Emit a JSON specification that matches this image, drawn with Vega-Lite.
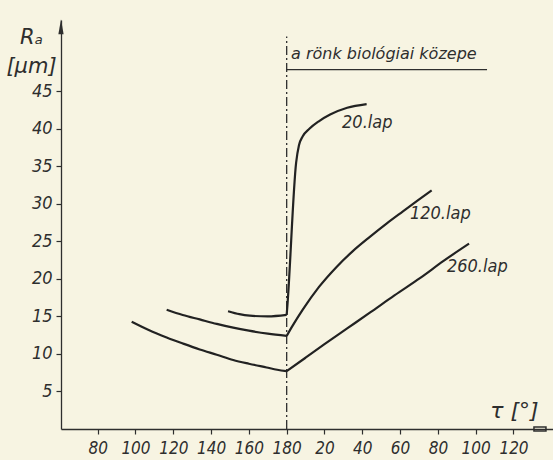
{
  "$schema": "https://vega.github.io/schema/vega-lite/v6.json",
  "width": 492,
  "height": 409,
  "autosize": {"type": "none"},
  "padding": {"left": 61, "top": 20, "right": 0, "bottom": 31},
  "background": "#f7f4e2",
  "config": {
    "view": {"stroke": null},
    "axis": {
      "domainColor": "#2e2e2e", "domainWidth": 1.3,
      "tickColor": "#2e2e2e", "tickWidth": 1.2, "tickSize": 5,
      "labelColor": "#2e2e2e", "labelFont": "DejaVu Sans Condensed, sans-serif",
      "labelFontStyle": "italic", "labelFontSize": 17,
      "titleColor": "#2e2e2e", "titleFont": "DejaVu Sans", "titleFontStyle": "italic", "titleFontWeight": "normal",
      "grid": false
    }
  },
  "datasets": {
    "curves": [
      {"seg": "260a", "series": "260.lap", "x": 98, "y": 14.3},
      {"seg": "260a", "series": "260.lap", "x": 107, "y": 13.2},
      {"seg": "260a", "series": "260.lap", "x": 116.5, "y": 12.2},
      {"seg": "260a", "series": "260.lap", "x": 125, "y": 11.4},
      {"seg": "260a", "series": "260.lap", "x": 134, "y": 10.6},
      {"seg": "260a", "series": "260.lap", "x": 143, "y": 9.9},
      {"seg": "260a", "series": "260.lap", "x": 151.7, "y": 9.2},
      {"seg": "260a", "series": "260.lap", "x": 160, "y": 8.7},
      {"seg": "260a", "series": "260.lap", "x": 169.4, "y": 8.2},
      {"seg": "260a", "series": "260.lap", "x": 175, "y": 7.9},
      {"seg": "260a", "series": "260.lap", "x": 180, "y": 7.7},
      {"seg": "260b", "series": "260.lap", "x": 180, "y": 7.7},
      {"seg": "260b", "series": "260.lap", "x": 190, "y": 9.5},
      {"seg": "260b", "series": "260.lap", "x": 200, "y": 11.3},
      {"seg": "260b", "series": "260.lap", "x": 212, "y": 13.4},
      {"seg": "260b", "series": "260.lap", "x": 224, "y": 15.5},
      {"seg": "260b", "series": "260.lap", "x": 237, "y": 17.8},
      {"seg": "260b", "series": "260.lap", "x": 250.5, "y": 20.1},
      {"seg": "260b", "series": "260.lap", "x": 263, "y": 22.4},
      {"seg": "260b", "series": "260.lap", "x": 276.5, "y": 24.7},
      {"seg": "120a", "series": "120.lap", "x": 116.5, "y": 15.9},
      {"seg": "120a", "series": "120.lap", "x": 125, "y": 15.2},
      {"seg": "120a", "series": "120.lap", "x": 134, "y": 14.6},
      {"seg": "120a", "series": "120.lap", "x": 143, "y": 14.0},
      {"seg": "120a", "series": "120.lap", "x": 151.7, "y": 13.5},
      {"seg": "120a", "series": "120.lap", "x": 160, "y": 13.1},
      {"seg": "120a", "series": "120.lap", "x": 170, "y": 12.7},
      {"seg": "120a", "series": "120.lap", "x": 180, "y": 12.4},
      {"seg": "120b", "series": "120.lap", "x": 180, "y": 12.4},
      {"seg": "120b", "series": "120.lap", "x": 183, "y": 13.7},
      {"seg": "120b", "series": "120.lap", "x": 188.5, "y": 15.9},
      {"seg": "120b", "series": "120.lap", "x": 197, "y": 18.9},
      {"seg": "120b", "series": "120.lap", "x": 206.4, "y": 21.6},
      {"seg": "120b", "series": "120.lap", "x": 215, "y": 23.7},
      {"seg": "120b", "series": "120.lap", "x": 224, "y": 25.6},
      {"seg": "120b", "series": "120.lap", "x": 233, "y": 27.4},
      {"seg": "120b", "series": "120.lap", "x": 241.5, "y": 29.0},
      {"seg": "120b", "series": "120.lap", "x": 249, "y": 30.4},
      {"seg": "120b", "series": "120.lap", "x": 256.7, "y": 31.8},
      {"seg": "20a", "series": "20.lap", "x": 149, "y": 15.7},
      {"seg": "20a", "series": "20.lap", "x": 155, "y": 15.3},
      {"seg": "20a", "series": "20.lap", "x": 160.5, "y": 15.1},
      {"seg": "20a", "series": "20.lap", "x": 170, "y": 15.0},
      {"seg": "20a", "series": "20.lap", "x": 180, "y": 15.2},
      {"seg": "20b", "series": "20.lap", "x": 180, "y": 15.2},
      {"seg": "20b", "series": "20.lap", "x": 180.4, "y": 16.5},
      {"seg": "20b", "series": "20.lap", "x": 185, "y": 35.5},
      {"seg": "20b", "series": "20.lap", "x": 186.5, "y": 37.8},
      {"seg": "20b", "series": "20.lap", "x": 188.5, "y": 39.0},
      {"seg": "20b", "series": "20.lap", "x": 192, "y": 40.0},
      {"seg": "20b", "series": "20.lap", "x": 197, "y": 41.0},
      {"seg": "20b", "series": "20.lap", "x": 203, "y": 41.9},
      {"seg": "20b", "series": "20.lap", "x": 212, "y": 42.8},
      {"seg": "20b", "series": "20.lap", "x": 222.3, "y": 43.3}
    ],
    "labels": [
      {"text": "20.lap", "x": 209.3, "y": 40.8},
      {"text": "120.lap", "x": 245.2, "y": 28.6},
      {"text": "260.lap", "x": 264.8, "y": 21.6}
    ]
  },
  "layer": [
    {
      "data": {"values": [{"x": 180, "y": 0, "y2": 52.3}]},
      "mark": {"type": "rule", "color": "#2e2e2e", "strokeWidth": 1.3, "strokeDash": [9, 3, 2, 3]},
      "encoding": {
        "x": {"field": "x", "type": "quantitative", "scale": {"domain": [60.6, 320.9], "nice": false, "zero": false},
          "axis": {"values": [80, 100, 120, 140, 160, 180, 200, 220, 240, 260, 280, 300],
            "labelExpr": "datum.value > 180 ? '' + (datum.value - 180) : datum.label",
            "labelPadding": 6, "labelFlush": false,
            "title": "τ [°]", "titleFontSize": 22, "titleAlign": "center", "titleBaseline": "alphabetic",
            "titleX": 453, "titleY": -12, "titleAnchor": null}},
        "y": {"field": "y", "type": "quantitative", "scale": {"domain": [0, 54.5], "nice": false},
          "axis": {"values": [5, 10, 15, 20, 25, 30, 35, 40, 45], "labelPadding": 4, "labelFontSize": 18,
            "title": ["Rₐ", "[µm]"], "titleAngle": 0, "titleFontSize": 21, "titleAlign": "center",
            "titleBaseline": "alphabetic", "titleX": -30, "titleY": 23, "titleLineHeight": 29}},
        "y2": {"field": "y2"}
      }
    },
    {
      "data": {"values": [{"x": 180, "x2": 286, "y": 47.9}]},
      "mark": {"type": "rule", "color": "#2e2e2e", "strokeWidth": 1.3},
      "encoding": {
        "x": {"field": "x", "type": "quantitative"},
        "x2": {"field": "x2"},
        "y": {"field": "y", "type": "quantitative"}
      }
    },
    {
      "data": {"name": "curves"},
      "mark": {"type": "line", "color": "#222222", "strokeWidth": 2.2, "interpolate": "monotone"},
      "encoding": {
        "x": {"field": "x", "type": "quantitative"},
        "y": {"field": "y", "type": "quantitative"},
        "detail": {"field": "seg"}
      }
    },
    {
      "data": {"name": "labels"},
      "mark": {"type": "text", "align": "left", "baseline": "middle", "font": "DejaVu Sans Condensed, sans-serif", "fontStyle": "italic", "fontSize": 18, "color": "#2e2e2e"},
      "encoding": {
        "x": {"field": "x", "type": "quantitative"},
        "y": {"field": "y", "type": "quantitative"},
        "text": {"field": "text"}
      }
    },
    {
      "data": {"values": [{"text": "a rönk biológiai közepe", "x": 182.3, "y": 50.0}]},
      "mark": {"type": "text", "align": "left", "baseline": "middle", "font": "DejaVu Sans", "fontStyle": "italic", "fontSize": 16, "color": "#2e2e2e"},
      "encoding": {
        "x": {"field": "x", "type": "quantitative"},
        "y": {"field": "y", "type": "quantitative"},
        "text": {"field": "text"}
      }
    },
    {
      "data": {"values": [{"x": 60.6, "y": 53.6}]},
      "mark": {"type": "point", "shape": "M0,-1L0.35,1L-0.35,1Z", "filled": true, "size": 225, "color": "#2e2e2e", "opacity": 1},
      "encoding": {
        "x": {"field": "x", "type": "quantitative"},
        "y": {"field": "y", "type": "quantitative"}
      }
    },
    {
      "data": {"values": [{"x": 314, "y": 0}]},
      "mark": {"type": "point", "shape": "M-1,-0.35L1,-0.35L1,0.35L-1,0.35Z", "filled": false, "size": 144, "color": "#2e2e2e", "strokeWidth": 1.5, "opacity": 1},
      "encoding": {
        "x": {"field": "x", "type": "quantitative"},
        "y": {"field": "y", "type": "quantitative"}
      }
    }
  ]
}
